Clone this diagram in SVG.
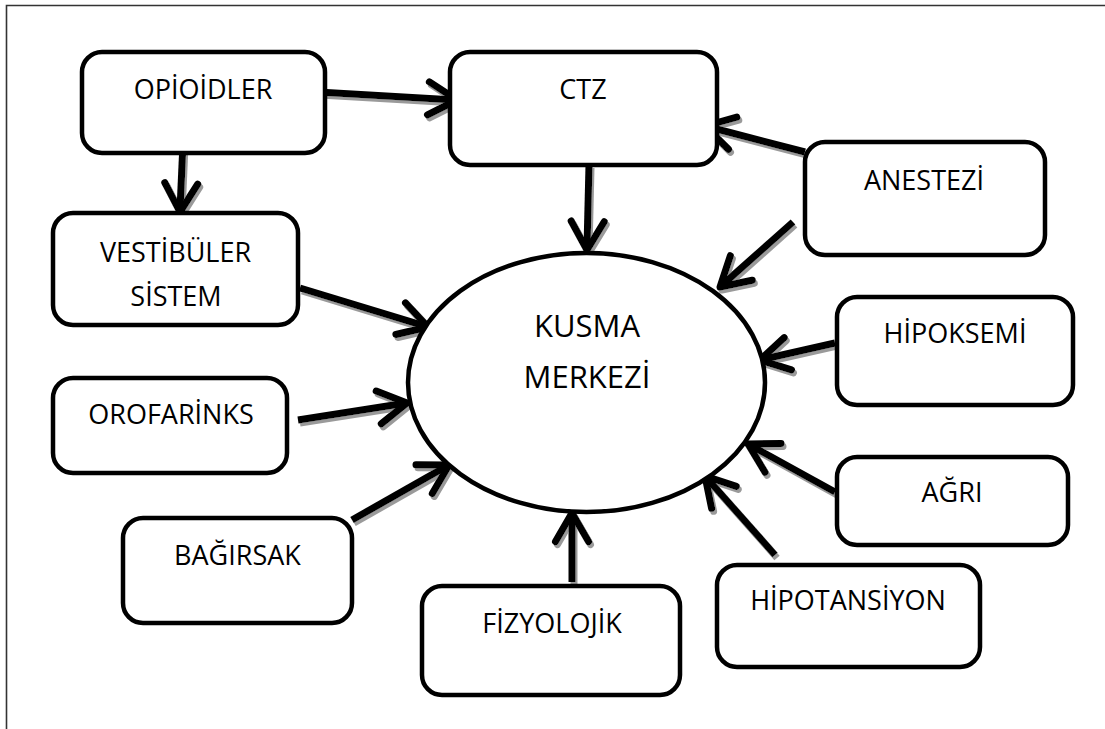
<svg xmlns="http://www.w3.org/2000/svg" width="1105" height="729" viewBox="0 0 1105 729">
<style>
.box{fill:#fff;stroke:#000;stroke-width:4.5}
.t{font-family:"Open Sans","Liberation Sans",sans-serif;font-size:27px;fill:#000;text-anchor:middle}
.tb{font-size:31px}
.ln{fill:none;stroke:#000;stroke-width:7;stroke-linecap:butt}
.hd{fill:none;stroke:#000;stroke-width:7;stroke-linecap:round;stroke-linejoin:round}
.frame{stroke:#333;stroke-width:1.6;fill:none}
</style>
<defs>
<filter id="sh" filterUnits="userSpaceOnUse" x="0" y="0" width="1105" height="729">
<feOffset in="SourceAlpha" dx="2" dy="2.5" result="o"/>
<feFlood flood-color="#9a9a9a"/>
<feComposite in2="o" operator="in" result="s"/>
<feMerge><feMergeNode in="s"/><feMergeNode in="SourceGraphic"/></feMerge>
</filter>
</defs>
<rect width="1105" height="729" fill="#fff"/>
<path class="frame" d="M6.5,729 V5.5 H1105"/>

<g id="connectors" filter="url(#sh)">
<path class="ln" d="M318,92 L455,100"/><path class="hd" d="M429.4,81.9 L457,100 L427.5,114.8"/>
<path class="ln" d="M183,143 L180,210"/><path class="hd" d="M197.7,184.2 L180,212 L164.8,182.7"/>
<path class="ln" d="M589,165 L587,248"/><path class="hd" d="M604.2,221.8 L587,250 L571.2,221"/>
<path class="ln" d="M805,152 L707,126.5"/><path class="hd" d="M728.5,149.2 L705,126 L736.8,117.2"/>
<path class="ln" d="M793,222 L721.5,285.7"/><path class="hd" d="M752.3,280.3 L720,287 L730.4,255.7"/>
<path class="ln" d="M300,288 L426,326.4"/><path class="hd" d="M405.5,302.9 L428,327 L395.9,334.5"/>
<path class="ln" d="M298,420 L405,403.3"/><path class="hd" d="M376.2,391.1 L407,403 L381.3,423.7"/>
<path class="ln" d="M352,520 L447,466"/><path class="hd" d="M416,464.7 L449,465 L432.3,493.4"/>
<path class="ln" d="M572,582 L572,515"/><path class="hd" d="M555.5,541.6 L572,513 L588.5,541.6"/>
<path class="ln" d="M775,555 L706.3,477.5"/><path class="hd" d="M711.6,508.3 L705,476 L736.3,486.4"/>
<path class="ln" d="M835,492 L749.8,445"/><path class="hd" d="M765,472.2 L748,444 L781,443.4"/>
<path class="ln" d="M835,343 L762,359.5"/><path class="hd" d="M791.5,369.8 L760,360 L784.2,337.6"/>
</g>

<g id="n-opioidler"><rect class="box" x="82" y="52" width="243" height="101" rx="20"/><text class="t" x="203" y="99">OPİOİDLER</text></g>
<g id="n-ctz"><rect class="box" x="450" y="52" width="267" height="113" rx="20"/><text class="t" x="583" y="99">CTZ</text></g>
<g id="n-anestezi"><rect class="box" x="805" y="142" width="240" height="113" rx="20"/><text class="t" x="924" y="190">ANESTEZİ</text></g>
<g id="n-vestibuler"><rect class="box" x="53" y="213" width="245" height="112" rx="20"/><text class="t" x="175.5" y="262">VESTİBÜLER</text><text class="t" x="176" y="306">SİSTEM</text></g>
<g id="n-orofarinks"><rect class="box" x="53" y="378" width="234" height="95" rx="20"/><text class="t" x="171" y="424">OROFARİNKS</text></g>
<g id="n-kusma"><ellipse class="box" cx="586.5" cy="382.5" rx="178.5" ry="129.5"/><text class="t tb" x="587" y="337">KUSMA</text><text class="t tb" x="587" y="388">MERKEZİ</text></g>
<g id="n-hipoksemi"><rect class="box" x="837" y="297" width="236" height="108" rx="20"/><text class="t" x="955" y="343">HİPOKSEMİ</text></g>
<g id="n-agri"><rect class="box" x="837" y="457" width="231" height="88" rx="20"/><text class="t" x="952" y="502">AĞRI</text></g>
<g id="n-bagirsak"><rect class="box" x="123" y="518" width="229" height="105" rx="20"/><text class="t" x="237.5" y="565">BAĞIRSAK</text></g>
<g id="n-fizyolojik"><rect class="box" x="422" y="586" width="258" height="109" rx="20"/><text class="t" x="552" y="633">FİZYOLOJİK</text></g>
<g id="n-hipotansiyon"><rect class="box" x="717" y="565" width="263" height="102" rx="20"/><text class="t" x="848" y="610">HİPOTANSİYON</text></g>
</svg>
